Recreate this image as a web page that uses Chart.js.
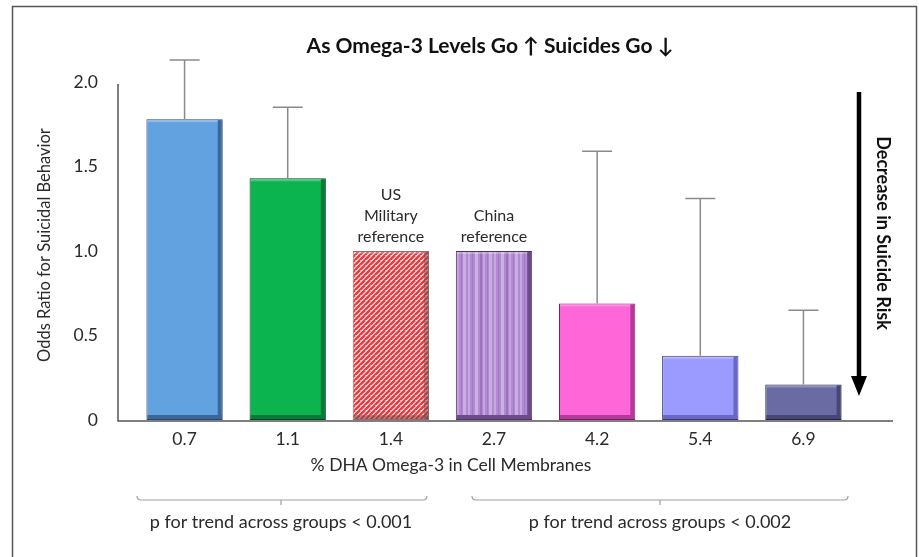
<!DOCTYPE html>
<html>
<head>
<meta charset="utf-8">
<title>Omega-3 and Suicidal Behavior</title>
<script src="https://cdn.jsdelivr.net/npm/chart.js@4/dist/chart.umd.min.js"></script>
<style>
  html, body { margin: 0; padding: 0; background: #ffffff; }
  #wrap { position: relative; width: 919px; height: 557px; }
</style>
</head>
<body>
<div id="wrap"><canvas id="chart" width="919" height="557"></canvas></div>
<script>
// ---- data ----
const dhaLevels   = ['0.7', '1.1', '1.4', '2.7', '4.2', '5.4', '6.9'];
const oddsRatios  = [1.78, 1.43, 1.0, 1.0, 0.69, 0.38, 0.21];
const upperLimits = [2.13, 1.85, null, null, 1.59, 1.31, 0.65];
const yTickValues = [0, 0.5, 1.0, 1.5, 2.0];
const barNotes    = [[], [], ['US', 'Military', 'reference'], ['China', 'reference'], [], [], []];
const groupNotes  = ['p for trend across groups < 0.001', 'p for trend across groups < 0.002'];

const chartTitle = 'As Omega-3 Levels Go \u2191 Suicides Go \u2193';
const xTitle = '% DHA Omega-3 in Cell Membranes';
const yTitle = 'Odds Ratio for Suicidal Behavior';
const riskNote = 'Decrease in Suicide Risk';

const FONT = 'Lato, "Open Sans", "DejaVu Sans", sans-serif';
const TEXT = '#2a2a2a';

// ---- fills ----
function hatchPattern() {
  const c = document.createElement('canvas');
  c.width = 5; c.height = 5;
  const g = c.getContext('2d');
  g.fillStyle = '#fdeeee';
  g.fillRect(0, 0, 5, 5);
  g.strokeStyle = '#e63a40';
  g.lineWidth = 2.4;
  for (let k = -5; k <= 10; k += 5) {
    g.beginPath();
    g.moveTo(k - 5, 10);
    g.lineTo(k + 5, 0);
    g.stroke();
  }
  return g.createPattern(c, 'repeat');
}

function stripePattern() {
  const c = document.createElement('canvas');
  c.width = 26; c.height = 4;
  const g = c.getContext('2d');
  g.fillStyle = '#b28ad2';
  g.fillRect(0, 0, 26, 4);
  const stripes = [[0, 2, '#c6a8e0'], [4, 1, '#a078c4'], [7, 3, '#cbb0e4'], [12, 2, '#9c72c0'],
                   [15, 2, '#c4a4de'], [19, 1, '#a27ac6'], [21, 3, '#c9ace2']];
  stripes.forEach(([x, w, col]) => { g.fillStyle = col; g.fillRect(x, 0, w, 4); });
  return g.createPattern(c, 'repeat');
}

const barFills   = ['#62a2e0', '#0bb44f', hatchPattern(), stripePattern(), '#ff66d8', '#9b9bff', '#6b6ba3'];
const barShades  = ['#3b679a', '#077a38', 'rgba(120,70,70,0.5)', '#6c4a8e', '#b23a96', '#6767c4', '#46467a'];
const barBorders = ['#2b4666', '#064a22', '#8a7070', '#4a3a5a', '#7a2060', '#3a3a6a', '#26263e'];

// ---- plugin: frame, bevel, error bars, annotations ----
const decorations = {
  id: 'decorations',
  beforeDraw(chart) {
    const ctx = chart.ctx;
    ctx.save();
    ctx.fillStyle = '#ffffff';
    ctx.fillRect(0, 0, chart.width, chart.height);
    ctx.strokeStyle = '#555555';
    ctx.lineWidth = 1.5;
    ctx.strokeRect(12.5, 6.5, 904, 570);
    ctx.restore();
  },
  afterDatasetsDraw(chart) {
    const ctx = chart.ctx;
    const meta = chart.getDatasetMeta(0);
    const y = chart.scales.y;
    const area = chart.chartArea;
    ctx.save();

    meta.data.forEach((bar, i) => {
      const left = bar.x - bar.width / 2;
      const right = bar.x + bar.width / 2;
      // bevel: darker right edge and bottom edge
      ctx.fillStyle = barShades[i];
      ctx.fillRect(right - 5, bar.y + 1, 4, bar.base - bar.y - 2);
      ctx.fillRect(left + 1, bar.base - 5, bar.width - 2, 4);
      ctx.fillStyle = 'rgba(255,255,255,0.25)';
      ctx.fillRect(left + 1, bar.y + 1, bar.width - 6, 2);

      // upper confidence limit
      if (upperLimits[i] != null) {
        const top = y.getPixelForValue(upperLimits[i]);
        ctx.strokeStyle = '#8a8a8a';
        ctx.lineWidth = 1.5;
        ctx.beginPath();
        ctx.moveTo(bar.x, bar.y);
        ctx.lineTo(bar.x, top);
        ctx.moveTo(bar.x - 15, top);
        ctx.lineTo(bar.x + 15, top);
        ctx.stroke();
      }

      // notes above reference bars
      const lines = barNotes[i];
      if (lines.length) {
        ctx.fillStyle = TEXT;
        ctx.font = '16px ' + FONT;
        ctx.textAlign = 'center';
        ctx.textBaseline = 'middle';
        lines.slice().reverse().forEach((t, k) => {
          ctx.fillText(t, bar.x, bar.y - 14 - k * 21);
        });
      }
    });

    // axis lines
    ctx.strokeStyle = '#555555';
    ctx.lineWidth = 1.5;
    ctx.beginPath();
    ctx.moveTo(area.left - 15, area.top + 2);
    ctx.lineTo(area.left - 15, area.bottom + 1);
    ctx.lineTo(area.right + 38, area.bottom + 1);
    ctx.stroke();

    // title
    ctx.fillStyle = '#111111';
    ctx.font = 'bold 21px ' + FONT;
    ctx.textAlign = 'center';
    ctx.textBaseline = 'middle';
    ctx.fillText(chartTitle, 490, 46);

    // axis titles
    ctx.fillStyle = TEXT;
    ctx.font = '17.5px ' + FONT;
    ctx.fillText(xTitle, 451, 465);
    ctx.save();
    ctx.translate(45, 245);
    ctx.rotate(-Math.PI / 2);
    ctx.font = '16.5px ' + FONT;
    ctx.fillText(yTitle, 0, 0);
    ctx.restore();

    // risk arrow
    ctx.strokeStyle = '#000000';
    ctx.lineWidth = 4.5;
    ctx.beginPath();
    ctx.moveTo(859, 92);
    ctx.lineTo(859, 380);
    ctx.stroke();
    ctx.fillStyle = '#000000';
    ctx.beginPath();
    ctx.moveTo(851, 376);
    ctx.lineTo(867, 376);
    ctx.lineTo(859, 396);
    ctx.closePath();
    ctx.fill();
    ctx.save();
    ctx.translate(883, 233);
    ctx.rotate(Math.PI / 2);
    ctx.font = 'bold 18px ' + FONT;
    ctx.fillStyle = '#111111';
    ctx.fillText(riskNote, 0, 0);
    ctx.restore();

    // group brackets with p-values
    const brackets = [[137, 427, 281], [472, 848, 660]];
    ctx.strokeStyle = '#a0a0a0';
    ctx.lineWidth = 1.2;
    brackets.forEach(([x0, x1, xc], k) => {
      ctx.beginPath();
      ctx.moveTo(x0, 496);
      ctx.quadraticCurveTo(x0, 500, x0 + 4, 500);
      ctx.lineTo(x1 - 4, 500);
      ctx.quadraticCurveTo(x1, 500, x1, 496);
      ctx.moveTo(xc, 500);
      ctx.lineTo(xc, 505);
      ctx.stroke();
      ctx.fillStyle = TEXT;
      ctx.font = '18px ' + FONT;
      ctx.fillText(groupNotes[k], xc, 522);
    });

    ctx.restore();
  }
};

new Chart(document.getElementById('chart'), {
  type: 'bar',
  data: {
    labels: dhaLevels,
    datasets: [{
      data: oddsRatios,
      backgroundColor: barFills,
      borderColor: barBorders,
      borderWidth: 1,
      borderSkipped: false,
      barPercentage: 0.74,
      categoryPercentage: 1.0
    }]
  },
  options: {
    responsive: false,
    animation: false,
    layout: { padding: { top: 82, right: 64, left: 0, bottom: 0 } },
    plugins: { legend: { display: false }, tooltip: { enabled: false }, title: { display: false } },
    scales: {
      x: {
        grid: { display: false, drawTicks: false },
        border: { display: false },
        ticks: { color: TEXT, font: { family: FONT, size: 17.5 }, padding: 9 },
        afterFit(scale) { scale.height = 137; }
      },
      y: {
        min: 0,
        max: 2.0,
        grid: { display: false, drawTicks: false },
        border: { display: false },
        afterBuildTicks(scale) { scale.ticks = yTickValues.map(v => ({ value: v })); },
        ticks: {
          color: TEXT,
          font: { family: FONT, size: 17.5 },
          padding: 35,
          callback: v => (v === 0 ? '0' : v.toFixed(1))
        },
        afterFit(scale) { scale.width = 133; }
      }
    }
  },
  plugins: [decorations]
});
</script>
</body>
</html>
